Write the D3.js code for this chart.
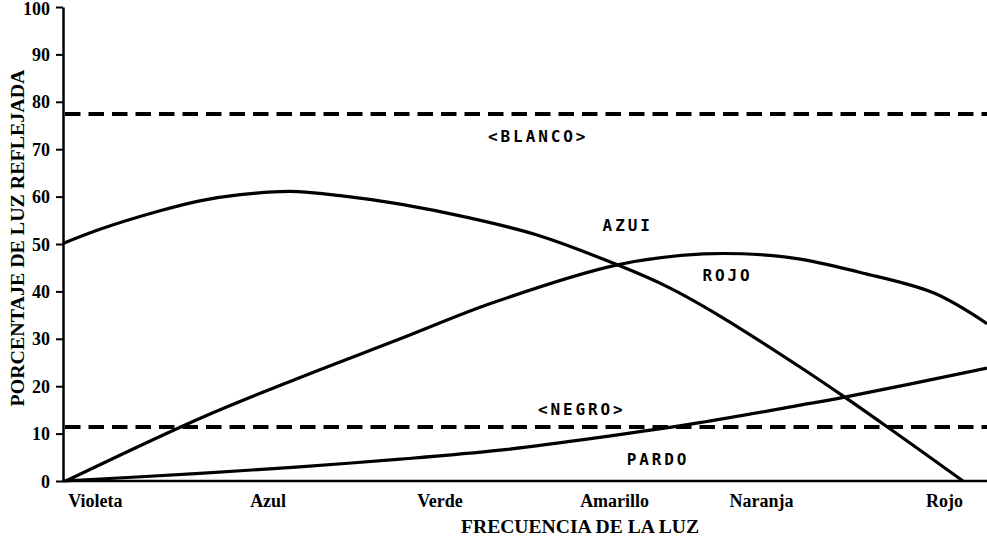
<!DOCTYPE html>
<html>
<head>
<meta charset="utf-8">
<script src="https://cdn.jsdelivr.net/npm/d3@7"></script>
<style>
  html, body { margin: 0; padding: 0; background: #fff; }
  svg { display: block; }
  .serif { font-family: "Liberation Serif", "Times New Roman", serif; font-weight: bold; fill: #000; }
  .mono { font-family: "DejaVu Sans Mono", monospace; font-weight: bold; fill: #000; }
</style>
</head>
<body>
<svg id="chart" width="987" height="536"></svg>
<script>
// ---- data ----
const categories = ["Violeta", "Azul", "Verde", "Amarillo", "Naranja", "Rojo"];
const categoryPos = [3.5, 22.2, 40.8, 59.7, 75.6, 95.4];   // position on the frequency axis (0-100)
const yTicks = [0, 10, 20, 30, 40, 50, 60, 70, 80, 90, 100];

const azulX  = [0, 4.0, 10.5, 14.8, 19.2, 24.6, 30.0, 36.5, 44.0, 51.3, 60.0, 65.7, 71.1, 79.8, 84.6, 89.3, 97.4];
const azulY  = [50.1, 53.1, 57.0, 59.1, 60.4, 61.1, 60.2, 58.4, 55.5, 51.9, 45.6, 40.7, 34.8, 24.0, 17.7, 11.3, 0];

const rojoX  = [0.3, 14.8, 25.6, 36.5, 46.5, 60.0, 69.3, 76.5, 79.8, 86.3, 94.2, 100];
const rojoY  = [0, 13.2, 21.8, 30.0, 37.6, 45.6, 47.9, 47.6, 46.8, 44.0, 39.7, 33.2];

const pardoX = [0, 14.8, 25.6, 36.5, 47.3, 58.1, 68.9, 79.8, 84.6, 100];
const pardoY = [0, 1.6, 3.0, 4.6, 6.5, 9.2, 12.3, 16.0, 17.7, 23.8];

const blanco = 77.4;
const negro = 11.4;

const labels = ["<BLANCO>", "AZUI", "ROJO", "<NEGRO>", "PARDO"];
const labelX = [46.0, 58.4, 69.2, 51.4, 61.0];
const labelY = [71.5, 52.8, 42.2, 14.0, 3.4];

// ---- drawing ----
const svg = d3.select("#chart");
const x = d3.scaleLinear().domain([0, 100]).range([63, 987]);
const y = d3.scaleLinear().domain([0, 100]).range([481, 7]);

// reference dashed lines
[blanco, negro].forEach(v => {
  svg.append("line")
    .attr("x1", x(0)).attr("x2", x(100))
    .attr("y1", y(v)).attr("y2", y(v))
    .attr("stroke", "#000").attr("stroke-width", 4)
    .attr("stroke-dasharray", "15.5,8")
    .attr("stroke-dashoffset", -2);
});

// curves
const line = d3.line()
  .x(d => x(d[0])).y(d => y(d[1]))
  .curve(d3.curveCatmullRom.alpha(0.5));

[[azulX, azulY], [rojoX, rojoY], [pardoX, pardoY]].forEach(([xs, ys]) => {
  svg.append("path")
    .attr("d", line(xs.map((v, i) => [v, ys[i]])))
    .attr("fill", "none")
    .attr("stroke", "#000")
    .attr("stroke-width", 3.2);
});

// y axis
const yAxis = svg.append("g")
  .attr("transform", `translate(${x(0)},0)`)
  .call(d3.axisLeft(y).tickValues(yTicks).tickSize(7).tickPadding(6).tickSizeOuter(0));
yAxis.select(".domain").attr("stroke", "#000").attr("stroke-width", 2.5);
yAxis.selectAll(".tick line").attr("stroke", "#000").attr("stroke-width", 2);
yAxis.selectAll(".tick text")
  .attr("class", "serif")
  .style("font-size", "18px")
  .attr("dy", d => d === 100 ? "0.42em" : "0.34em");

// x axis line
svg.append("line")
  .attr("x1", x(0) - 1).attr("x2", x(100))
  .attr("y1", y(0)).attr("y2", y(0))
  .attr("stroke", "#000").attr("stroke-width", 2.5);

// category labels
svg.selectAll(".cat")
  .data(categories)
  .enter().append("text")
  .attr("class", "serif")
  .attr("x", (d, i) => x(categoryPos[i]))
  .attr("y", 507)
  .attr("text-anchor", "middle")
  .style("font-size", "18px")
  .text(d => d);

// axis titles
svg.append("text")
  .attr("class", "serif")
  .attr("transform", "translate(24,238) rotate(-90)")
  .attr("text-anchor", "middle")
  .attr("textLength", 337)
  .attr("lengthAdjust", "spacingAndGlyphs")
  .style("font-size", "18px")
  .text("PORCENTAJE DE LUZ REFLEJADA");

svg.append("text")
  .attr("class", "serif")
  .attr("x", 580).attr("y", 533)
  .attr("text-anchor", "middle")
  .attr("textLength", 238)
  .attr("lengthAdjust", "spacingAndGlyphs")
  .style("font-size", "18px")
  .text("FRECUENCIA DE LA LUZ");

// series labels
svg.selectAll(".lbl")
  .data(labels)
  .enter().append("text")
  .attr("class", "mono")
  .attr("x", (d, i) => x(labelX[i]))
  .attr("y", (d, i) => y(labelY[i]))
  .style("font-size", "16px")
  .style("letter-spacing", "2.9px")
  .text(d => d);
</script>
</body>
</html>
